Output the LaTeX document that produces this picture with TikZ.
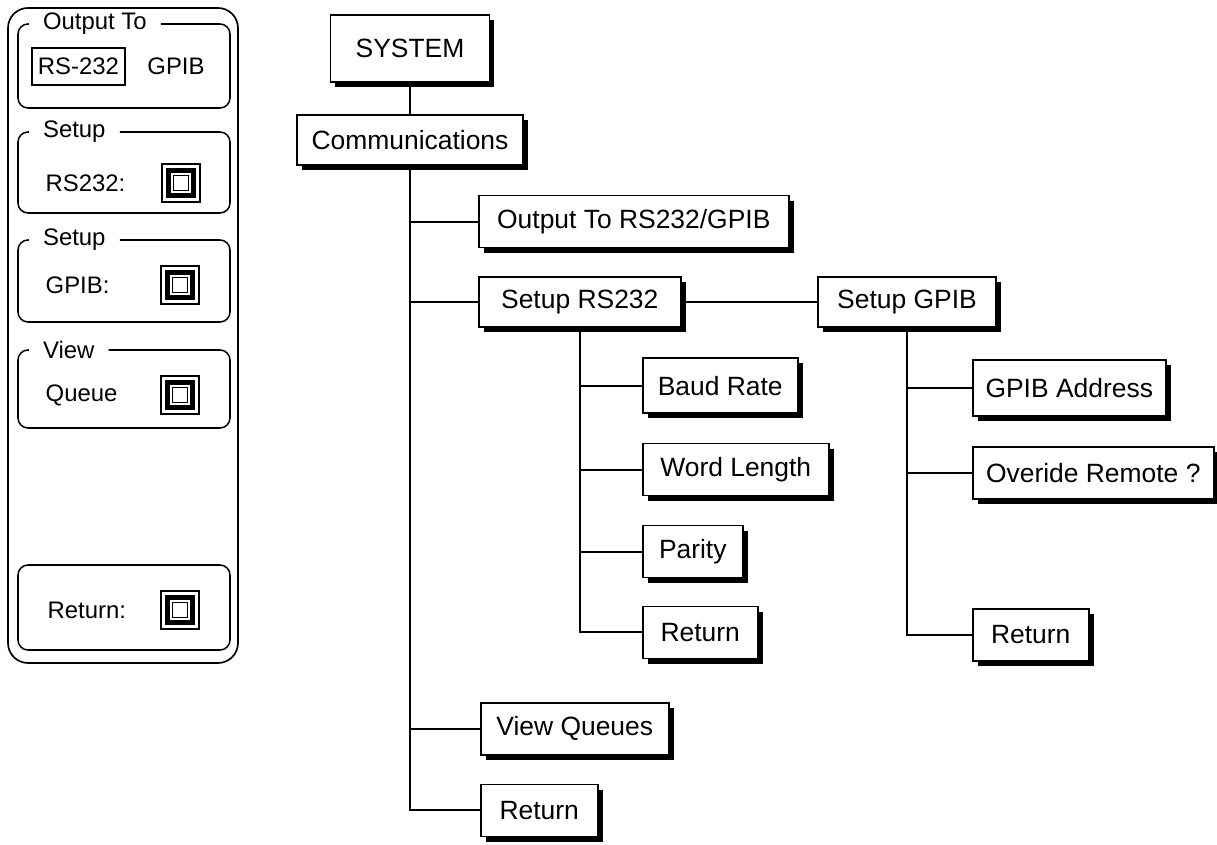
\documentclass[tikz,border=0pt]{standalone}
\usepackage{fontspec}
\setmainfont{Liberation Sans}
\usetikzlibrary{shadows,calc}
\tikzset{
  every node/.style={font=\fontsize{18.8}{22}\selectfont},
  menubox/.style={draw,fill=white,line width=1.1pt,minimum height=13mm,inner sep=2pt,align=center,
    drop shadow={shadow xshift=1.2mm,shadow yshift=-1.3mm,opacity=1,fill=black}},
  link/.style={line width=1.3pt},
  panel/.style={line width=1.2pt,rounded corners=5mm},
  group/.style={line width=1.1pt,rounded corners=2.5mm},
  grptitle/.style={font=\fontsize{17}{20}\selectfont,anchor=west,inner xsep=3.5mm,inner ysep=1pt},
  paneltext/.style={font=\fontsize{17}{20}\selectfont,inner sep=1pt},
  knob/.style={draw,line width=0.8pt,minimum size=9.5mm,inner sep=0pt,
    path picture={
      \draw[line width=3pt] ($(path picture bounding box.center)+(-3.1mm,-3.1mm)$) rectangle ($(path picture bounding box.center)+(3.1mm,3.1mm)$);
      \draw[line width=0.7pt] ($(path picture bounding box.center)+(-1.8mm,-1.8mm)$) rectangle ($(path picture bounding box.center)+(1.8mm,1.8mm)$);
    }},
}

\begin{document}
\begin{tikzpicture}
  \useasboundingbox (0,0) rectangle (30.425,21.1);

  % left hand soft key panel
  \draw[panel] (0.2,4.525) rectangle (5.95,20.9);

  \node[grptitle] (tout) at (0.72,20.5) {Output To};
  \draw[group] (tout.east) -- (5.75,20.5) -- (5.75,18.4) -- (0.45,18.4) -- (0.45,20.5) -- (tout.west);
  \node[paneltext,draw,line width=1.1pt,minimum width=23.25mm,minimum height=9.25mm] (rsbox) at (1.96,19.44) {RS-232};
  \node[paneltext] (gpibsel) at (4.4,19.44) {GPIB};

  \node[grptitle] (tsetrs) at (0.72,17.8) {Setup};
  \draw[group] (tsetrs.east) -- (5.75,17.8) -- (5.75,15.775) -- (0.45,15.775) -- (0.45,17.8) -- (tsetrs.west);
  \node[paneltext,anchor=west] (lrs) at (1.1,16.525) {RS232:};
  \node[knob] (krs) at (4.525,16.525) {};

  \node[grptitle] (tsetgp) at (0.72,15.1) {Setup};
  \draw[group] (tsetgp.east) -- (5.75,15.1) -- (5.75,13.05) -- (0.45,13.05) -- (0.45,15.1) -- (tsetgp.west);
  \node[paneltext,anchor=west] (lgp) at (1.1,13.975) {GPIB:};
  \node[knob] (kgp) at (4.5,13.975) {};

  \node[grptitle] (tview) at (0.72,12.35) {View};
  \draw[group] (tview.east) -- (5.75,12.35) -- (5.75,10.4) -- (0.45,10.4) -- (0.45,12.35) -- (tview.west);
  \node[paneltext,anchor=west] (lq) at (1.1,11.225) {Queue};
  \node[knob] (kq) at (4.5,11.225) {};

  \draw[group] (0.45,4.85) rectangle (5.75,6.975);
  \node[paneltext,anchor=west] (lret) at (1.15,5.85) {Return:};
  \node[knob] (kret) at (4.5,5.85) {};

  % menu tree
  \node[menubox,minimum width=39.75mm,minimum height=16.75mm] (system) at (10.25,19.89) {SYSTEM};
  \node[menubox,minimum width=56.5mm,minimum height=12.5mm] (comm) at (10.25,17.6) {Communications};

  \node[menubox,anchor=west,minimum width=77.5mm] (outsel) at (11.95,15.56) {Output To RS232/GPIB};
  \node[menubox,anchor=west,minimum width=50.5mm,minimum height=12.5mm] (setrs) at (11.95,13.55) {Setup RS232};
  \node[menubox,anchor=west,minimum width=44.5mm,minimum height=12.5mm] (setgpib) at (20.43,13.55) {Setup GPIB};
  \node[menubox,anchor=west,minimum width=47mm] (viewq) at (12.0,2.88) {View Queues};
  \node[menubox,anchor=west,minimum width=29.25mm] (ret) at (12.0,0.84) {Return};

  \node[menubox,anchor=west,minimum width=38.75mm,minimum height=13.75mm] (baud) at (16.05,11.46) {Baud Rate};
  \node[menubox,anchor=west,minimum width=46.5mm] (word) at (16.05,9.36) {Word Length};
  \node[menubox,anchor=west,minimum width=25mm] (parity) at (16.05,7.31) {Parity};
  \node[menubox,anchor=west,minimum width=28.75mm] (retrs) at (16.05,5.29) {Return};

  \node[menubox,anchor=west,minimum width=48.25mm,minimum height=14mm] (gaddr) at (24.3,11.4) {GPIB Address};
  \node[menubox,anchor=west,minimum width=60.25mm] (overide) at (24.3,9.28) {Overide Remote ?};
  \node[menubox,anchor=west,minimum width=29mm] (retgp) at (24.3,5.23) {Return};

  \draw[link] (system) -- (comm);
  \draw[link] (comm.south) |- (ret.west);
  \draw[link] (comm.south |- outsel.west) -- (outsel.west); \draw[link] (comm.south |- setrs.west) -- (setrs.west);
  \draw[link] (comm.south |- viewq.west) -- (viewq.west);
  \draw[link] (setrs) -- (setgpib);

  \draw[link] (setrs.south) |- (retrs.west);
  \draw[link] (setrs.south |- baud.west) -- (baud.west); \draw[link] (setrs.south |- word.west) -- (word.west);
  \draw[link] (setrs.south |- parity.west) -- (parity.west);

  \draw[link] (setgpib.south) |- (retgp.west);
  \draw[link] (setgpib.south |- gaddr.west) -- (gaddr.west); \draw[link] (setgpib.south |- overide.west) -- (overide.west);
\end{tikzpicture}
\end{document}
